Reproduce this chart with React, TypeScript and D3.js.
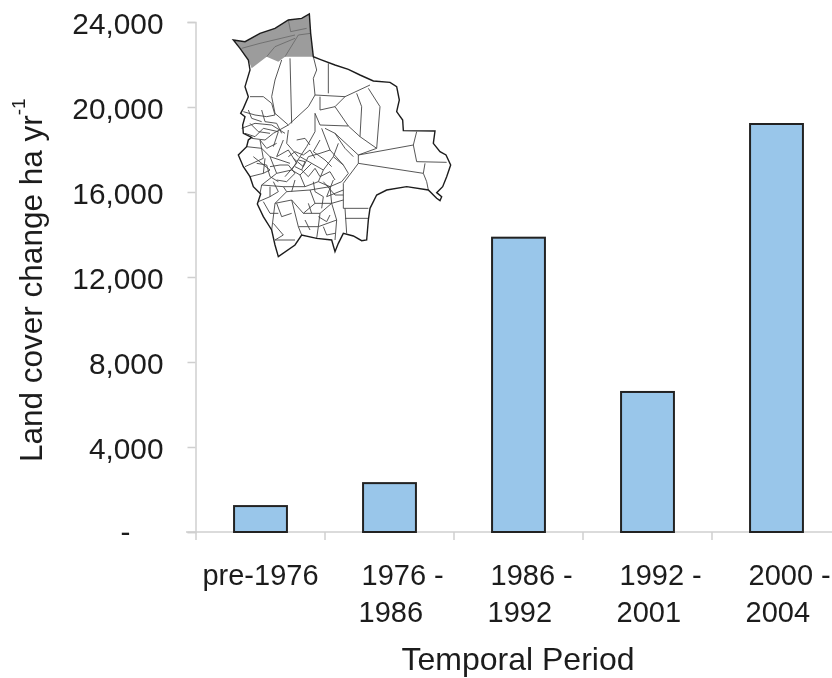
import {useEffect, useRef} from 'react';
import * as d3 from 'd3';

const periods = ['pre-1976', '1976 -|1986', '1986 -|1992', '1992 -|2001', '2000 -|2004'];
const changeValues = [1220, 2300, 13850, 6590, 19200];
const yTicks = [0, 4000, 8000, 12000, 16000, 20000, 24000];

// inset map, in its own 240x270 map units (x3)
type Pt = [number, number];
const outline: Pt[] = [
  [40, 120], [75, 125], [120, 100], [165, 85], [205, 60], [245, 55], [268, 42], [272, 100], [280, 170],
  [300, 178], [345, 195], [385, 208], [420, 225], [460, 243], [510, 247], [530, 260], [538, 300], [530, 335],
  [548, 360], [550, 392], [645, 393], [640, 430], [660, 455], [678, 465], [692, 495], [680, 530], [668, 560],
  [650, 578], [665, 590], [660, 602], [650, 595], [625, 570], [560, 560], [500, 570], [470, 585], [450, 625],
  [445, 660], [440, 720], [425, 722], [400, 708], [370, 700], [355, 730], [345, 755], [335, 720], [290, 715],
  [245, 705], [225, 735], [175, 770], [165, 735], [155, 690], [130, 650], [112, 612], [122, 582], [100, 560],
  [90, 530], [70, 500], [55, 465], [80, 440], [85, 420], [95, 412], [70, 400], [68, 375], [75, 350], [62, 340],
  [70, 325], [85, 290], [75, 260], [90, 210], [85, 180], [60, 145],
];
const shaded: Pt[] = [
  [40, 120], [75, 125], [120, 100], [165, 85], [205, 60], [245, 55], [268, 42], [272, 100], [280, 170],
  [195, 170], [175, 185], [140, 170], [95, 205], [85, 180], [60, 145],
];
const shadedLines: Pt[][] = [
  [[65, 145], [120, 130], [225, 105]],
  [[140, 170], [165, 140], [225, 115]],
  [[195, 170], [235, 105], [272, 100]],
  [[205, 60], [212, 95], [260, 85]],
];
const districts: Pt[][] = [
  [[90, 290], [130, 290], [155, 310], [165, 345]],
  [[185, 180], [165, 240], [155, 290], [165, 340], [205, 375]],
  [[210, 175], [215, 370]],
  [[280, 170], [290, 210], [280, 235], [285, 285], [265, 320], [205, 375]],
  [[325, 190], [325, 280]],
  [[285, 285], [375, 290], [450, 255]],
  [[300, 290], [300, 330], [345, 320], [375, 290]],
  [[345, 320], [385, 378], [300, 375], [285, 340], [285, 395]],
  [[410, 280], [425, 320], [420, 410], [385, 378]],
  [[445, 265], [480, 320], [470, 445]],
  [[420, 410], [470, 445], [415, 465], [580, 435], [590, 395]],
  [[580, 435], [590, 485], [680, 487]],
  [[415, 490], [610, 520], [615, 490]],
  [[610, 520], [620, 545], [625, 570]],
  [[415, 490], [370, 550], [370, 625], [445, 625]],
  [[375, 655], [445, 655]],
  [[375, 625], [380, 700]],
  [[315, 385], [345, 400], [415, 465], [415, 490]],
  [[345, 400], [375, 445], [400, 470]],
  [[305, 385], [330, 450], [370, 495], [385, 520], [365, 545]],
  [[70, 335], [105, 345], [140, 350], [165, 345]],
  [[65, 385], [105, 370], [155, 375], [195, 400]],
  [[95, 415], [135, 420], [160, 400], [205, 375]],
  [[205, 390], [200, 430], [235, 470]],
  [[285, 395], [260, 440], [240, 470]],
  [[80, 440], [125, 445], [150, 470], [210, 490]],
  [[120, 420], [130, 475], [75, 500]],
  [[135, 475], [130, 520], [90, 530]],
  [[150, 470], [170, 520], [125, 555], [120, 580]],
  [[170, 520], [215, 510], [240, 470], [275, 490], [240, 525], [215, 510]],
  [[220, 475], [250, 500], [265, 470], [300, 460], [330, 450]],
  [[275, 490], [310, 510], [340, 470]],
  [[310, 510], [295, 545], [330, 560], [365, 545]],
  [[240, 525], [255, 560], [295, 545]],
  [[125, 555], [190, 560], [255, 560]],
  [[150, 560], [150, 590], [115, 605]],
  [[190, 560], [200, 575], [165, 610], [155, 690]],
  [[200, 575], [270, 570], [285, 610], [250, 640], [215, 600], [165, 610]],
  [[215, 600], [235, 680], [245, 705]],
  [[270, 570], [330, 560], [335, 610], [285, 610]],
  [[335, 610], [370, 600]],
  [[250, 640], [300, 640], [335, 610], [350, 660], [345, 720]],
  [[300, 640], [295, 680], [350, 660]],
  [[295, 680], [290, 715]],
  [[235, 680], [295, 680]],
  [[160, 670], [190, 705], [165, 720], [225, 720]],
  [[100, 470], [150, 510], [130, 520]],
  [[190, 420], [170, 470], [205, 450], [230, 490], [195, 530]],
  [[75, 400], [105, 410], [130, 385], [175, 395], [160, 440]],
  [[340, 470], [370, 495]],
  [[340, 470], [355, 430]],
  [[340, 540], [320, 590], [370, 570]],
  [[225, 500], [245, 510], [255, 485], [235, 480]],
  // denser departments near the middle
  [[205, 470], [225, 455], [250, 465], [270, 450], [285, 475]],
  [[205, 495], [225, 520], [200, 545], [170, 540]],
  [[245, 510], [265, 530], [285, 505]],
  [[285, 505], [300, 530], [330, 515], [345, 540]],
  [[150, 500], [180, 495], [205, 495]],
  [[110, 490], [140, 495], [150, 530], [175, 545]],
  [[170, 430], [140, 445], [120, 420]],
  [[230, 420], [255, 415], [270, 435]],
  [[300, 420], [280, 455], [315, 480], [335, 500]],
  [[90, 370], [115, 395], [150, 400]],
  [[125, 330], [135, 365], [170, 370], [185, 400]],
  [[85, 330], [95, 355], [125, 365]],
  [[225, 540], [215, 575]],
  [[280, 545], [285, 575], [310, 590], [305, 625]],
  [[310, 545], [345, 585], [370, 585]],
  [[170, 610], [185, 650], [215, 640]],
  [[130, 605], [150, 640], [175, 640]],
  [[295, 650], [320, 665], [330, 645]],
  [[310, 680], [320, 705], [345, 700]],
  [[255, 660], [270, 690]],
  [[265, 610], [275, 640]],
  [[160, 545], [175, 575], [150, 590]],
];

const App = () => {
  const svgRef = useRef<SVGSVGElement | null>(null);

  useEffect(() => {
    if (!svgRef.current) return;
    const root = d3.select(svgRef.current);
    root.selectAll('*').remove();

    const font = '"Liberation Sans", Arial, sans-serif';
    const textColor = '#1c1c1c';
    const axisColor = '#cfcfcf';

    const x = d3.scaleBand<string>().domain(periods).range([196, 841]);
    const y = d3.scaleLinear().domain([0, 24000]).range([532, 22]);
    const barWidth = x.bandwidth() * 0.41;

    // the source is a soft scan, so everything gets a slight blur
    root
      .append('defs')
      .append('filter')
      .attr('id', 'soft')
      .attr('filterUnits', 'userSpaceOnUse')
      .attr('x', 0)
      .attr('y', 0)
      .attr('width', 832)
      .attr('height', 678)
      .append('feGaussianBlur')
      .attr('stdDeviation', 0.6);
    const svg = root.append('g').attr('filter', 'url(#soft)');

    const yAxis = svg
      .append('g')
      .attr('transform', 'translate(195.5,0)')
      .call(
        d3
          .axisLeft(y)
          .tickValues(yTicks)
          .tickSize(8)
          .tickPadding(24)
          .tickFormat((d) => ((d as number) === 0 ? '-' : d3.format(',')(d as number)))
      );
    yAxis.selectAll('path,line').attr('stroke', axisColor).attr('stroke-width', 1.5);
    yAxis
      .selectAll('text')
      .attr('font-family', font)
      .attr('font-size', 29.8)
      .attr('fill', textColor)
      .attr('dy', 11);
    yAxis
      .selectAll<SVGTextElement, number>('text')
      .filter((d) => d === 0)
      .attr('x', -65)
      .attr('dy', 9);

    svg
      .append('line')
      .attr('x1', 186)
      .attr('x2', 832)
      .attr('y1', y(0))
      .attr('y2', y(0))
      .attr('stroke', axisColor)
      .attr('stroke-width', 1.5);
    svg
      .append('g')
      .selectAll('line')
      .data(periods)
      .join('line')
      .attr('x1', (d) => x(d)!)
      .attr('x2', (d) => x(d)!)
      .attr('y1', y(0))
      .attr('y2', y(0) + 8)
      .attr('stroke', axisColor)
      .attr('stroke-width', 1.5);

    svg
      .append('g')
      .selectAll('rect')
      .data(periods)
      .join('rect')
      .attr('x', (d) => x(d)! + (x.bandwidth() - barWidth) / 2)
      .attr('width', barWidth)
      .attr('y', (_, i) => y(changeValues[i]))
      .attr('height', (_, i) => y(0) - y(changeValues[i]))
      .attr('fill', '#99c6ea')
      .attr('stroke', '#222')
      .attr('stroke-width', 2);

    const labels = svg
      .append('g')
      .attr('font-family', font)
      .attr('font-size', 29)
      .attr('fill', textColor);
    periods.forEach((p) => {
      const [first, second] = p.split('|');
      const cx = x(p)! + x.bandwidth() / 2;
      if (!second) {
        labels.append('text').attr('x', cx).attr('y', 585).attr('text-anchor', 'middle').text(first);
        return;
      }
      labels.append('text').attr('x', cx - 28).attr('y', 585).text(first);
      labels.append('text').attr('x', cx - 31).attr('y', 622).text(second);
    });

    svg
      .append('text')
      .attr('x', 518)
      .attr('y', 670)
      .attr('text-anchor', 'middle')
      .attr('font-family', font)
      .attr('font-size', 32)
      .attr('fill', textColor)
      .text('Temporal Period');

    const yTitle = svg
      .append('text')
      .attr('transform', 'translate(42,462) rotate(-90)')
      .attr('font-family', font)
      .attr('font-size', 31.5)
      .attr('fill', textColor);
    yTitle.append('tspan').text('Land cover change ha yr');
    yTitle.append('tspan').attr('font-size', 19).attr('dy', -17).text('-1');

    // inset map
    const mapX = d3.scaleLinear().domain([0, 720]).range([220, 460]);
    const mapY = d3.scaleLinear().domain([0, 810]).range([0, 270]);
    const line = d3
      .line<Pt>()
      .x((d) => mapX(d[0]))
      .y((d) => mapY(d[1]));
    const map = svg.append('g').attr('fill', 'none');

    map.append('path').attr('d', line(outline)! + 'Z').attr('fill', '#fff');
    map.append('path').attr('d', line(shaded)! + 'Z').attr('fill', '#9c9c9c');
    map
      .selectAll('path.district')
      .data(districts)
      .join('path')
      .attr('class', 'district')
      .attr('d', (d) => line(d))
      .attr('stroke', '#444')
      .attr('stroke-width', 0.9);
    map
      .selectAll('path.shaded-line')
      .data(shadedLines)
      .join('path')
      .attr('class', 'shaded-line')
      .attr('d', (d) => line(d))
      .attr('stroke', '#666')
      .attr('stroke-width', 0.8);
    map.append('path').attr('d', line(outline)! + 'Z').attr('stroke', '#1c1c1c').attr('stroke-width', 1.4);
  }, []);

  return (
    <svg
      ref={svgRef}
      width={832}
      height={678}
      style={{position: 'absolute', left: 0, top: 0, background: '#fff'}}
    ></svg>
  );
};

export default App;
